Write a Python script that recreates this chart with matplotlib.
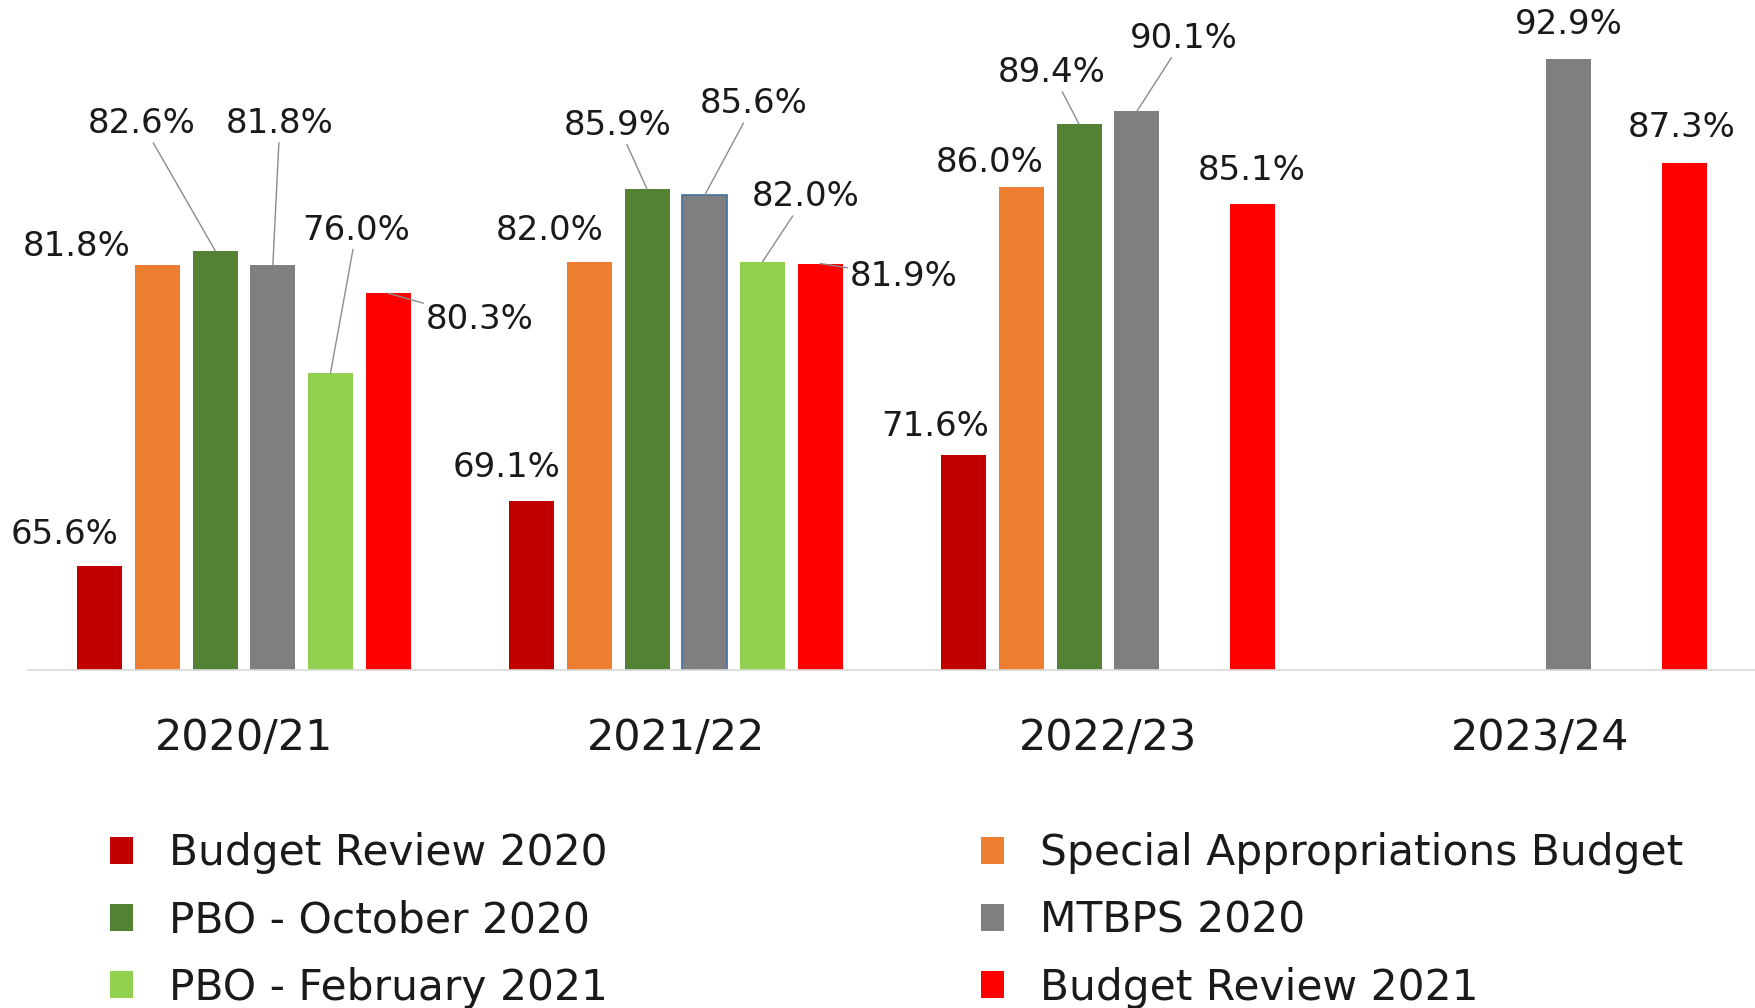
import numpy as np
import matplotlib
matplotlib.use("Agg")
import matplotlib.pyplot as plt
from matplotlib.patches import Patch

# ---------------- data ----------------
categories = ["2020/21", "2021/22", "2022/23", "2023/24"]
series_names = ["Budget Review 2020", "Special Appropriations Budget",
                "PBO - October 2020", "MTBPS 2020",
                "PBO - February 2021", "Budget Review 2021"]
budget_review_2020 = [65.6, 69.1, 71.6, None]
special_appropriations = [81.8, 82.0, 86.0, None]
pbo_october_2020 = [82.6, 85.9, 89.4, None]
mtbps_2020 = [81.8, 85.6, 90.1, 92.9]
pbo_february_2021 = [76.0, 82.0, None, None]
budget_review_2021 = [80.3, 81.9, 85.1, 87.3]

series_values = [budget_review_2020, special_appropriations, pbo_october_2020,
                 mtbps_2020, pbo_february_2021, budget_review_2021]

# ---------------- style ----------------
colors = ["#C00000", "#ED7D31", "#548235", "#7F7F7F", "#92D050", "#FF0000"]
# label offsets in pixels (dx, dy up) relative to bar top centre, and leader flag
label_style = {
    (0, 0): (-35, 32, False), (1, 0): (-81, 19, False), (2, 0): (-73, 127, True),
    (3, 0): (7, 142, True), (4, 0): (26, 143, True), (5, 0): (92, -26, True),
    (0, 1): (-25, 34, False), (1, 1): (-40, 31, False), (2, 1): (-29, 64, True),
    (3, 1): (49, 91, True), (4, 1): (43, 65, True), (5, 1): (84, -13, True),
    (0, 2): (-29, 28, False), (1, 2): (-32, 25, False), (2, 2): (-27, 52, True),
    (3, 2): (47, 73, True), (5, 2): (0, 34, False),
    (3, 3): (0, 35, False), (5, 3): (-2, 36, False),
}

plt.rcParams["font.family"] = ["DejaVu Sans"]
W, H = 1756, 1008
fig = plt.figure(figsize=(W / 100, H / 100), dpi=100)
ax = fig.add_axes([28 / W, 1 - 670 / H, 1 - 28 / W, 670 / H])

x = np.arange(len(categories))
pitch = 0.1335
width = 0.104
text_color = "#1A1A1A"

for si, (name, vals) in enumerate(zip(series_names, series_values)):
    for ci, v in enumerate(vals):
        if v is None:
            continue
        xpos = x[ci] + (si - 2.5) * pitch
        edge = "#41719C" if (si == 3 and ci == 1) else colors[si]
        ax.bar(xpos, v - 60, bottom=60, width=width, color=colors[si],
               edgecolor=edge, linewidth=1.2 if edge != colors[si] else 0)
        dx, dy, leader = label_style[(si, ci)]
        kw = {}
        if leader:
            kw["arrowprops"] = dict(arrowstyle="-", color="#8C8C8C", lw=1,
                                    shrinkA=0, shrinkB=0)
        ax.annotate(f"{v:.1f}%", xy=(xpos, v), xytext=(dx, dy),
                    textcoords="offset pixels", ha="center", va="center",
                    fontsize=24.5, color=text_color, **kw)

ax.set_xlim(-0.5, 3.5)
ax.set_ylim(60, 96.1)
ax.set_xticks(x)
ax.set_xticklabels(categories, fontsize=31, color=text_color)
ax.tick_params(axis="x", length=0, pad=34)
ax.set_yticks([])
for s in ["top", "right", "left"]:
    ax.spines[s].set_visible(False)
ax.spines["bottom"].set_color("#D9D9D9")
ax.spines["bottom"].set_linewidth(1.2)

# legends: two columns placed separately
col1 = [0, 2, 4]
col2 = [1, 3, 5]
for cols, xpos in [(col1, 110), (col2, 981)]:
    handles = [Patch(facecolor=colors[i], edgecolor="none") for i in cols]
    labels = [series_names[i] for i in cols]
    fig.legend(handles, labels, loc="upper left",
               bbox_to_anchor=(xpos / W, 1 - 832 / H),
               frameon=False, fontsize=30.5, handlelength=0.55, handleheight=0.6,
               handletextpad=0.85, labelspacing=0.6, borderpad=0,
               borderaxespad=0, labelcolor=text_color)

fig.savefig("out.png", dpi=100)
